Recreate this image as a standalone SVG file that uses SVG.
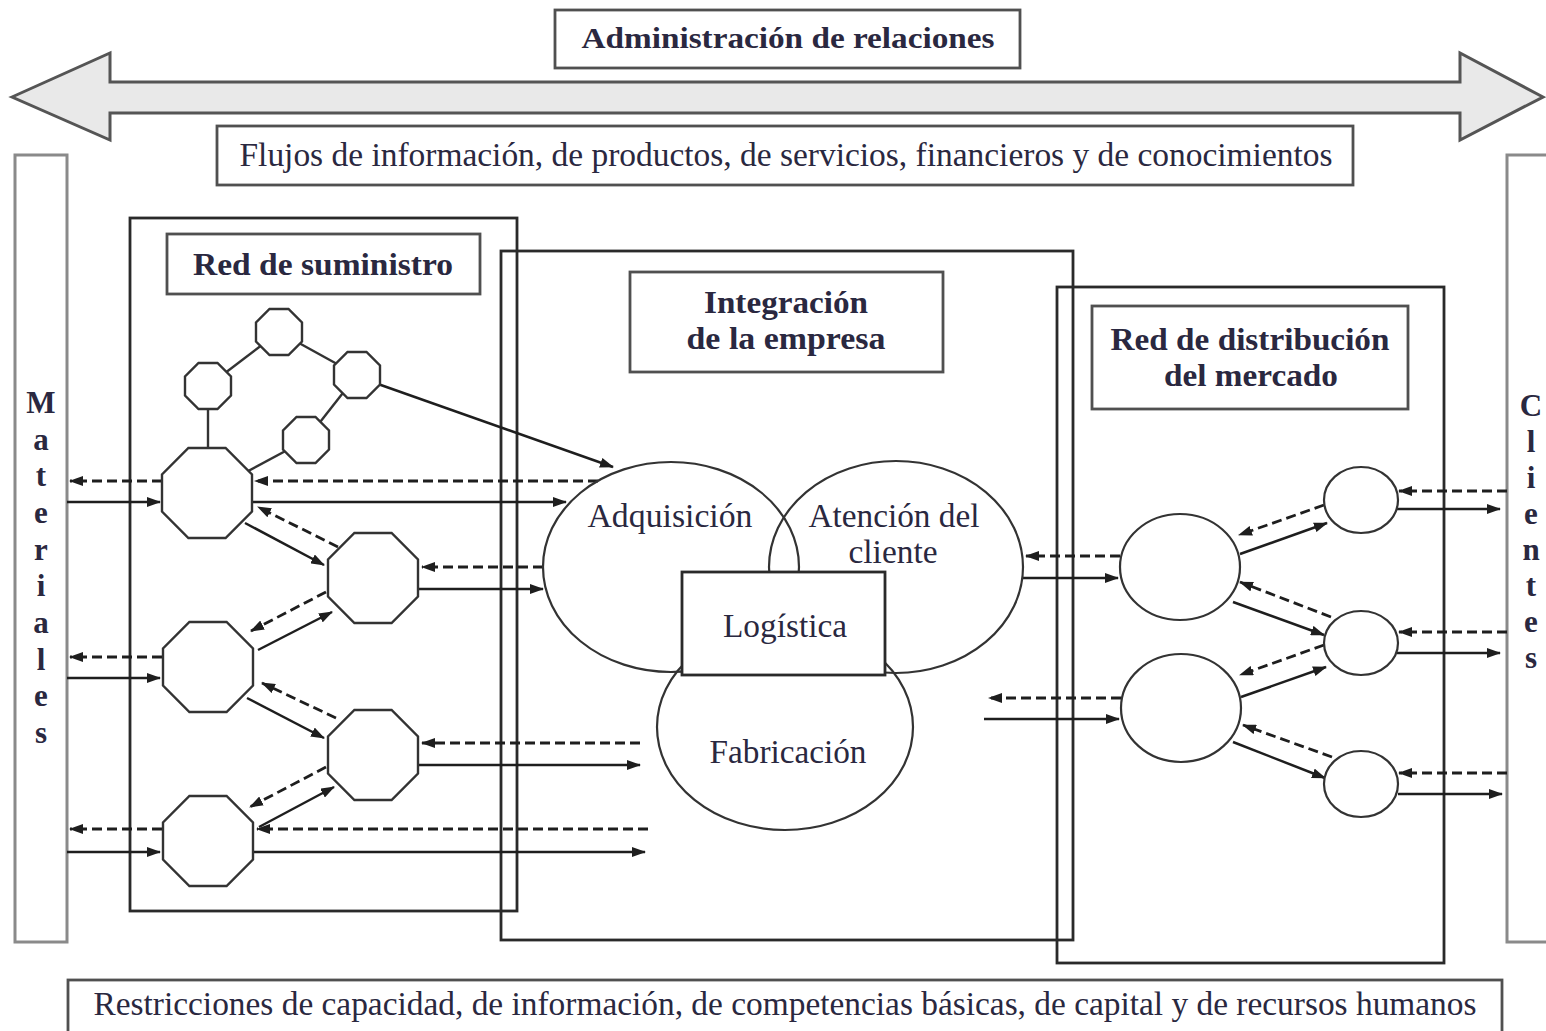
<svg xmlns="http://www.w3.org/2000/svg" width="1546" height="1031" viewBox="0 0 1546 1031">
<style>
.box{fill:none;stroke:#2a2a2a;stroke-width:2.8}
.lbl{fill:#fff;stroke:#505050;stroke-width:2.8}
.side{fill:#fff;stroke:#8a8a8a;stroke-width:3}
.t{font-family:"Liberation Serif","Times New Roman",serif;fill:#2a2840;text-anchor:middle}
.b{font-weight:bold}
.sol{stroke:#1e1e1e;stroke-width:2.5;fill:none;marker-end:url(#ah)}
.das{stroke:#1e1e1e;stroke-width:2.8;stroke-dasharray:10 5;fill:none;marker-end:url(#ah)}
.link{stroke:#333;stroke-width:2.4;fill:none}
.oct{fill:#fff;stroke:#333;stroke-width:2.4}
.ell{fill:none;stroke:#333;stroke-width:2.2}
.ellw{fill:#fff;stroke:#333;stroke-width:2.2}
</style>
<defs>
<marker id="ah" markerWidth="14" markerHeight="10" refX="13" refY="5" orient="auto" markerUnits="userSpaceOnUse">
<path d="M0,0 L14,5 L0,10 Z" fill="#1e1e1e"/>
</marker>
<path id="octB" d="M-18.6,-45 L18.6,-45 L45,-18.6 L45,18.6 L18.6,45 L-18.6,45 L-45,18.6 L-45,-18.6 Z"/>
<path id="octS" d="M-9.5,-23 L9.5,-23 L23,-9.5 L23,9.5 L9.5,23 L-9.5,23 L-23,9.5 L-23,-9.5 Z"/>
</defs>
<rect width="1546" height="1031" fill="#fff"/>

<g id="relaciones">
<polygon points="12,97 110,53 110,82 1460,82 1460,53 1543,97 1460,140 1460,113 110,113 110,140" fill="#e9e9e9" stroke="#555" stroke-width="3" stroke-linejoin="miter"/>
<rect class="lbl" x="555" y="10" width="465" height="58"/>
<text class="t b" x="788" y="48" font-size="30" textLength="413" lengthAdjust="spacingAndGlyphs">Administración de relaciones</text>
</g>

<g id="flujos">
<rect class="lbl" x="217" y="126" width="1136" height="59"/>
<text class="t" x="786" y="166" font-size="33" textLength="1093" lengthAdjust="spacingAndGlyphs">Flujos de información, de productos, de servicios, financieros y de conocimientos</text>
</g>

<g id="materiales">
<rect class="side" x="15" y="155" width="52" height="787"/>
<g class="t b" font-size="31">
<text x="41" y="413">M</text><text x="41" y="450">a</text><text x="41" y="486">t</text><text x="41" y="523">e</text><text x="41" y="560">r</text><text x="41" y="596">i</text><text x="41" y="633">a</text><text x="41" y="670">l</text><text x="41" y="706">e</text><text x="41" y="743">s</text>
</g>
</g>

<g id="clientes">
<rect class="side" x="1507" y="155" width="60" height="787"/>
<g class="t b" font-size="31">
<text x="1531" y="416">C</text><text x="1531" y="452">l</text><text x="1531" y="488">i</text><text x="1531" y="524">e</text><text x="1531" y="560">n</text><text x="1531" y="596">t</text><text x="1531" y="632">e</text><text x="1531" y="668">s</text>
</g>
</g>

<g id="red-suministro">
<rect class="box" x="130" y="218" width="387" height="693"/>
<rect class="lbl" x="167" y="234" width="313" height="60"/>
<text class="t b" x="323" y="275" font-size="32" textLength="260" lengthAdjust="spacingAndGlyphs">Red de suministro</text>
</g>

<g id="integracion">
<rect class="box" x="501" y="251" width="572" height="689"/>
<rect class="lbl" x="630" y="272" width="313" height="100"/>
<text class="t b" x="786" y="313" font-size="31" textLength="164" lengthAdjust="spacingAndGlyphs">Integración</text>
<text class="t b" x="786" y="349" font-size="31" textLength="199" lengthAdjust="spacingAndGlyphs">de la empresa</text>
</g>

<g id="red-distribucion">
<rect class="box" x="1057" y="287" width="387" height="676"/>
<rect class="lbl" x="1092" y="306" width="316" height="103"/>
<text class="t b" x="1250" y="350" font-size="31" textLength="279" lengthAdjust="spacingAndGlyphs">Red de distribución</text>
<text class="t b" x="1251" y="386" font-size="31" textLength="174" lengthAdjust="spacingAndGlyphs">del mercado</text>
</g>

<g id="restricciones">
<rect class="lbl" x="68" y="980" width="1434" height="70"/>
<text class="t" x="785" y="1015" font-size="33" textLength="1383" lengthAdjust="spacingAndGlyphs">Restricciones de capacidad, de información, de competencias básicas, de capital y de recursos humanos</text>
</g>

<g id="connectors">
<line class="link" x1="279" y1="332" x2="208" y2="386"/>
<line class="link" x1="279" y1="332" x2="357" y2="375"/>
<line class="link" x1="357" y1="375" x2="306" y2="440"/>
<line class="link" x1="208" y1="386" x2="208" y2="493"/>
<line class="link" x1="306" y1="440" x2="207" y2="493"/>
<line class="sol" x1="378" y1="384" x2="613" y2="467"/>

<line class="das" x1="162" y1="481" x2="70" y2="481"/>
<line class="sol" x1="67" y1="502" x2="160" y2="502"/>
<line class="das" x1="598" y1="481" x2="255" y2="481"/>
<line class="sol" x1="253" y1="502" x2="566" y2="502"/>
<line class="sol" x1="245" y1="523" x2="324" y2="565"/>
<line class="das" x1="338" y1="547" x2="258" y2="507"/>
<line class="das" x1="543" y1="567" x2="422" y2="567"/>
<line class="sol" x1="419" y1="589" x2="543" y2="589"/>
<line class="das" x1="326" y1="592" x2="251" y2="631"/>
<line class="sol" x1="258" y1="650" x2="332" y2="612"/>
<line class="das" x1="162" y1="657" x2="70" y2="657"/>
<line class="sol" x1="67" y1="678" x2="160" y2="678"/>
<line class="das" x1="336" y1="718" x2="262" y2="683"/>
<line class="sol" x1="247" y1="698" x2="324" y2="738"/>
<line class="das" x1="640" y1="743" x2="422" y2="743"/>
<line class="sol" x1="419" y1="765" x2="640" y2="765"/>
<line class="das" x1="326" y1="767" x2="250" y2="807"/>
<line class="sol" x1="259" y1="827" x2="334" y2="787"/>
<line class="das" x1="162" y1="829" x2="70" y2="829"/>
<line class="sol" x1="67" y1="852" x2="160" y2="852"/>
<line class="das" x1="648" y1="829" x2="257" y2="829"/>
<line class="sol" x1="254" y1="852" x2="645" y2="852"/>

<line class="das" x1="1120" y1="556" x2="1026" y2="556"/>
<line class="sol" x1="1022" y1="578" x2="1118" y2="578"/>
<line class="das" x1="1324" y1="505" x2="1239" y2="535"/>
<line class="sol" x1="1240" y1="554" x2="1327" y2="523"/>
<line class="das" x1="1507" y1="491" x2="1399" y2="491"/>
<line class="sol" x1="1397" y1="509" x2="1500" y2="509"/>
<line class="das" x1="1331" y1="617" x2="1240" y2="582"/>
<line class="sol" x1="1233" y1="602" x2="1324" y2="635"/>
<line class="das" x1="1507" y1="632" x2="1399" y2="632"/>
<line class="sol" x1="1397" y1="653" x2="1500" y2="653"/>
<line class="das" x1="1324" y1="645" x2="1240" y2="675"/>
<line class="sol" x1="1241" y1="697" x2="1326" y2="667"/>
<line class="das" x1="1121" y1="698" x2="989" y2="698"/>
<line class="sol" x1="984" y1="719" x2="1119" y2="719"/>
<line class="das" x1="1332" y1="757" x2="1243" y2="725"/>
<line class="sol" x1="1233" y1="742" x2="1325" y2="778"/>
<line class="das" x1="1507" y1="773" x2="1399" y2="773"/>
<line class="sol" x1="1398" y1="794" x2="1502" y2="794"/>
</g>

<g id="proveedores">
<use href="#octS" class="oct" x="279" y="332"/>
<use href="#octS" class="oct" x="208" y="386"/>
<use href="#octS" class="oct" x="357" y="375"/>
<use href="#octS" class="oct" x="306" y="440"/>
<use href="#octB" class="oct" x="207" y="493"/>
<use href="#octB" class="oct" x="373" y="578"/>
<use href="#octB" class="oct" x="208" y="667"/>
<use href="#octB" class="oct" x="373" y="755"/>
<use href="#octB" class="oct" x="208" y="841"/>
</g>

<g id="adquisicion">
<ellipse class="ell" cx="671" cy="567" rx="128" ry="105"/>
<text class="t" x="670" y="527" font-size="33" textLength="165" lengthAdjust="spacingAndGlyphs">Adquisición</text>
</g>
<g id="atencion">
<ellipse class="ell" cx="896" cy="567" rx="127" ry="106"/>
<text class="t" x="894" y="527" font-size="33" textLength="171" lengthAdjust="spacingAndGlyphs">Atención del</text>
<text class="t" x="893" y="563" font-size="33" textLength="89" lengthAdjust="spacingAndGlyphs">cliente</text>
</g>
<g id="fabricacion">
<ellipse class="ell" cx="785" cy="727" rx="128" ry="103"/>
<text class="t" x="788" y="763" font-size="33" textLength="157" lengthAdjust="spacingAndGlyphs">Fabricación</text>
</g>
<g id="logistica">
<rect x="682" y="572" width="203" height="103" fill="#fff" stroke="#2a2a2a" stroke-width="2.8"/>
<text class="t" x="785" y="637" font-size="33" textLength="124" lengthAdjust="spacingAndGlyphs">Logística</text>
</g>

<g id="distribuidores">
<ellipse class="ellw" cx="1180" cy="567" rx="60" ry="53"/>
<ellipse class="ellw" cx="1181" cy="708" rx="60" ry="54"/>
<ellipse class="ellw" cx="1361" cy="500" rx="37" ry="33"/>
<ellipse class="ellw" cx="1361" cy="643" rx="37" ry="32"/>
<ellipse class="ellw" cx="1361" cy="784" rx="37" ry="33"/>
</g>
</svg>
